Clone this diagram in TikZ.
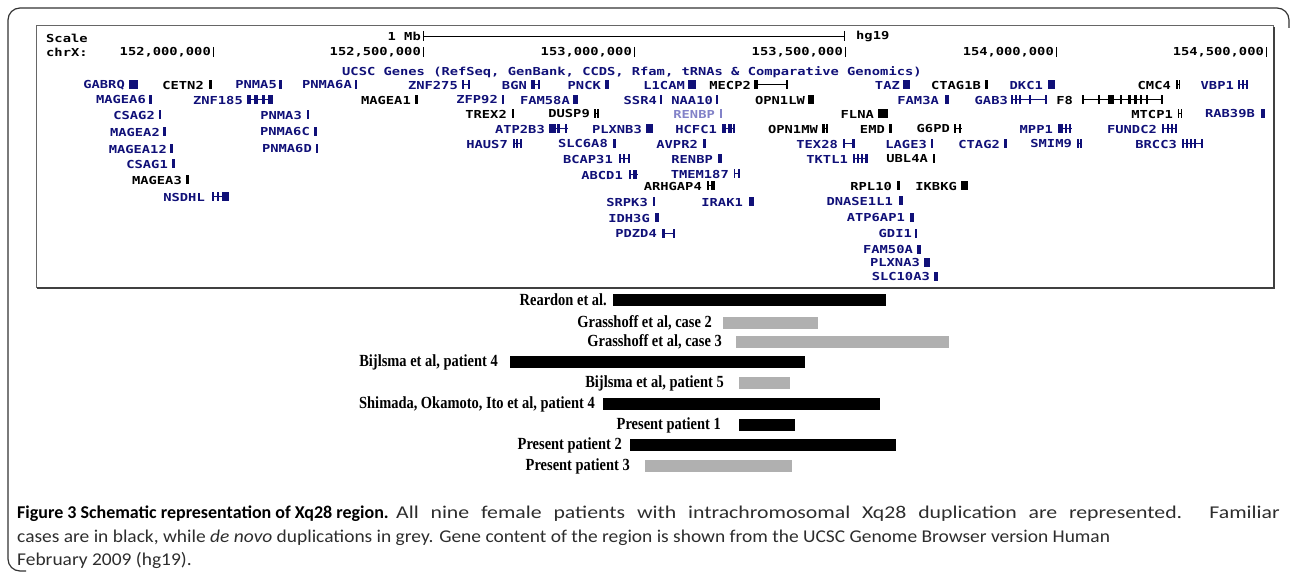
\documentclass[tikz,border=0pt]{standalone}
\usepackage{fontspec}
\usepackage{graphicx}
\usepackage{tikz}
\newfontfamily\ucscfont[FakeStretch=1.25]{DejaVu Sans Mono}
\newfontfamily\casefont[FakeStretch=0.85]{Liberation Serif}
\newfontfamily\capfont[FakeStretch=1.08]{Carlito}
\newfontfamily\capheadfont{Carlito Bold}
\definecolor{ucscblue}{RGB}{16,16,120}
\definecolor{fadeblue}{RGB}{130,130,200}
\definecolor{dupgrey}{RGB}{176,176,176}
\definecolor{capgrey}{RGB}{45,45,45}

\begin{document}
\begin{tikzpicture}[x=1pt,y=-1pt,
  gene/.style={anchor=east,inner sep=0pt,font=\ucscfont\bfseries\fontsize{11}{11}\selectfont},
  head/.style={anchor=west,inner sep=0pt,font=\ucscfont\bfseries\fontsize{11}{11}\selectfont},
  caselabel/.style={anchor=east,inner sep=0pt,font=\casefont\bfseries\fontsize{17}{17}\selectfont},
  capline/.style={anchor=base west,inner sep=0pt,text=capgrey,font=\capfont\fontsize{18}{18}\selectfont}]
  \useasboundingbox (0,0) rectangle (1290,572);
  \draw[black!80,line width=1.2pt,rounded corners=12pt] (1289,28) -- (1289,8) -- (8,8) -- (8,571) -- (26,571);
  \draw[black!60,line width=1pt] (36,26) rectangle (1273,287);
  \draw[black!75,line width=2pt] (1274,27) -- (1274,288) -- (37,288);
  \node[head] (scale) at (46,38) {Scale};
  \node[head] (chr) at (46,52) {chrX:};
  \node[gene] (mb) at (421,36) {1 Mb};
  \draw (423,31) -- (423,41) (423,36) -- (844,36) (844,31) -- (844,41);
  \node[head] (hg) at (856,36) {hg19};
  \foreach \t/\lbl in {213/{152,000,000},423/{152,500,000},634/{153,000,000},845/{153,500,000},1056/{154,000,000},1266/{154,500,000}}{
    \node[gene] (pos\t) at (\t-2,52) {\lbl};
    \draw (\t,47) -- (\t,57);
  }
  \node[head,text=ucscblue] (track) at (342,72) {UCSC Genes (RefSeq, GenBank, CCDS, Rfam, tRNAs \& Comparative Genomics)};
  \node[gene,text=fadeblue] (RENBPfaint) at (715,114) {RENBP};
  \fill[fadeblue] (720,109.5) rectangle (722,118.5);
  \foreach \g/\xr/\y/\c/\ea/\eb/\ex in {
    GABRQ/125/85/ucscblue/129/138/{129/138},
    CETN2/204/85/black/209/212/{209/212},
    PNMA5/277/85/ucscblue/279/282/{279/282},
    PNMA6A/352/85/ucscblue/355/357/{355/357},
    ZNF275/458/85/ucscblue/462/470/{462/464,468/470},
    BGN/527/85/ucscblue/531/540/{531/535,538/540},
    PNCK/601/85/ucscblue/605/609/{605/609},
    L1CAM/685/85/ucscblue/688/696/{688/696},
    MECP2/751/85/black/754/788/{754/758,786/788},
    TAZ/900/85/ucscblue/903/910/{903/910},
    CTAG1B/981/85/black/985/988/{985/988},
    DKC1/1043/85/ucscblue/1048/1055/{1048/1055},
    CMC4/1171/85/black/1176/1180/{1176/1177.5,1179/1180},
    VBP1/1234/85/ucscblue/1238/1248/{1238/1240,1242/1244,1246/1248},
    MAGEA6/146/100/ucscblue/149/152/{149/152},
    ZNF185/243/100/ucscblue/247/273/{247/251,254/258,262/265,268/273},
    MAGEA1/411/100/black/415/418/{415/418},
    ZFP92/498/100/ucscblue/502/504/{502/504},
    FAM58A/570/100/ucscblue/573/578/{573/578},
    SSR4/657/100/ucscblue/660/662/{660/662},
    NAA10/713/100/ucscblue/716/718/{716/718},
    OPN1LW/805/100/black/808/814/{808/814},
    FAM3A/939/100/ucscblue/945/949/{945/949},
    GAB3/1008/100/ucscblue/1011/1047/{1011/1013,1015/1017,1019/1021,1029/1031,1045/1047},
    F8/1073/100/black/1082/1163/{1082/1084,1098/1100,1108/1114,1120/1122,1128/1131,1134/1137,1140/1142,1146/1148,1161/1163},
    CSAG2/155/115/ucscblue/159/161/{159/161},
    PNMA3/302/115/ucscblue/307/309/{307/309},
    TREX2/507/114/black/512/514/{512/514},
    DUSP9/590/114/black/594/599/{594/596,597/599},
    FLNA/874/114/black/878/888/{878/888},
    MTCP1/1173/114/black/1178/1182/{1178/1179,1181/1182},
    RAB39B/1255/114/ucscblue/1261/1265/{1261/1265},
    MAGEA2/160/132/ucscblue/163/166/{163/166},
    PNMA6C/310/132/ucscblue/314/317/{314/317},
    ATP2B3/545/129/ucscblue/549/568/{549/556,557/560,565/567},
    PLXNB3/642/129/ucscblue/646/653/{646/653},
    HCFC1/717/129/ucscblue/722/735/{722/726,728/732,733/735},
    OPN1MW/818/129/black/822/828/{822/825,826/828},
    EMD/885/129/black/889/892/{889/892},
    G6PD/950/129/black/954/962/{954/956,959/961},
    MPP1/1053/129/ucscblue/1058/1072/{1058/1063,1065/1067,1069/1071},
    FUNDC2/1157/129/ucscblue/1162/1177/{1162/1164,1167/1169,1171/1173,1175/1177},
    MAGEA12/167/149/ucscblue/170/173/{170/173},
    PNMA6D/312/149/ucscblue/316/318/{316/318},
    HAUS7/508/144/ucscblue/513/522/{513/515,516/518,520/522},
    SLC6A8/608/144/ucscblue/613/616/{613/616},
    AVPR2/698/144/ucscblue/703/706/{703/706},
    TEX28/838/144/ucscblue/843/855/{843/845,852/855},
    LAGE3/927/144/ucscblue/931/933/{931/933},
    CTAG2/1000/144/ucscblue/1004/1007/{1004/1007},
    SMIM9/1072/144/ucscblue/1077/1082/{1077/1079,1080/1082},
    BRCC3/1177/144/ucscblue/1182/1203/{1182/1184,1186/1188,1190/1192,1194/1196,1201/1203},
    CSAG1/168/164/ucscblue/172/175/{172/175},
    BCAP31/613/159/ucscblue/619/630/{619/621,623/625,628/630},
    RENBP/713/159/ucscblue/718/722/{718/722},
    TKTL1/848/159/ucscblue/853/868/{853/855,857/859,861/863,865/868},
    UBL4A/928/159/black/933/935/{933/935},
    MAGEA3/182/180/black/186/189/{186/189},
    ABCD1/623/175/ucscblue/629/638/{629/631,633/637},
    TMEM187/729/174/ucscblue/734/740/{734/735,738/740},
    ARHGAP4/702/186/black/707/715/{707/709,711/715},
    RPL10/892/186/black/897/900/{897/900},
    IKBKG/957/186/black/961/968/{961/968},
    NSDHL/205/197/ucscblue/212/229/{212/214,217/219,222/229},
    SRPK3/648/202/ucscblue/653/655/{653/655},
    IRAK1/743/202/ucscblue/749/754/{749/754},
    DNASE1L1/893/201/ucscblue/899/903/{899/903},
    IDH3G/650/218/ucscblue/655/659/{655/659},
    ATP6AP1/905/218/ucscblue/910/914/{910/914},
    PDZD4/657/233/ucscblue/662/675/{662/665,673/675},
    GDI1/912/233/ucscblue/915/917/{915/917},
    FAM50A/913/249/ucscblue/917/921/{917/921},
    PLXNA3/920/262/ucscblue/924/930/{924/930},
    SLC10A3/930/276/ucscblue/934/938/{934/938}}{
    \node[gene,text=\c] (\g) at (\xr,\y) {\g};
    \draw[\c,line width=1pt] (\ea,\y) -- (\eb,\y);
    \foreach \a/\b in \ex \fill[\c] (\a,\y-4.5) rectangle (\b,\y+4.5);
  }
  \foreach \lbl/\xr/\y/\a/\b/\c [count=\i] in {
    {Reardon et al.}/607/300/613/886/black,
    {Grasshoff et al, case 2}/712/323/723/818/dupgrey,
    {Grasshoff et al, case 3}/722/342/736/949/dupgrey,
    {Bijlsma et al, patient 4}/498/362/510/805/black,
    {Bijlsma et al, patient 5}/724/383/739/790/dupgrey,
    {Shimada, Okamoto, Ito et al, patient 4}/595/404/603/880/black,
    {Present patient 1}/721/425/739/795/black,
    {Present patient 2}/622/445/630/896/black,
    {Present patient 3}/630/466/645/792/dupgrey}{
    \node[caselabel] (case\i) at (\xr,\y) {\lbl};
    \fill[\c] (\a,\y-6) rectangle (\b,\y+6);
  }
  \node[capline,text=black,font=\capheadfont\fontsize{18}{18}\selectfont] (cap1) at (17,518) {Figure 3 Schematic representation of Xq28 region.};
  \node[capline] (cap1rest) at ([xshift=7pt]cap1.base east) {\scalebox{1.12}[1]{\makebox[789pt][s]{All nine female patients with intrachromosomal Xq28 duplication are represented. Familiar}}};
  \node[capline] (cap2) at (17,542) {cases are in black, while \textit{de novo} duplications in grey. Gene content of the region is shown from the UCSC Genome Browser version Human};
  \node[capline] (cap3) at (17,565) {February 2009 (hg19).};
\end{tikzpicture}
\end{document}
